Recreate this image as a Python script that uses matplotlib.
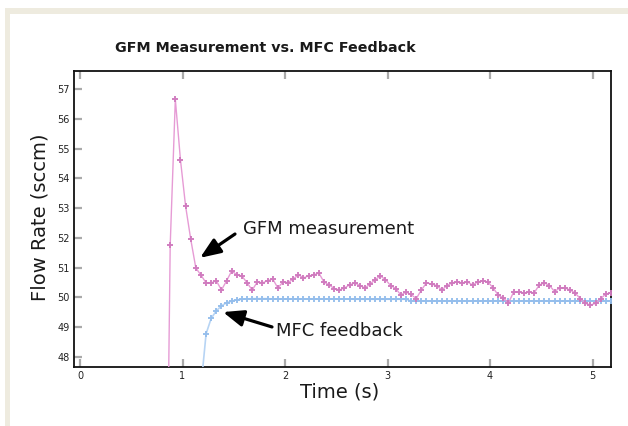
import matplotlib
matplotlib.use("Agg")
import matplotlib.pyplot as plt
from matplotlib.patches import Rectangle
import numpy as np

# ---- data ----
gfm_t = [0.86] + [round(0.88 + 0.05 * i, 2) for i in range(87)]
gfm_v = [46.0,
         51.76, 56.65, 54.62, 53.07, 51.96, 50.99, 50.75, 50.49, 50.49, 50.56,
         50.25, 50.56, 50.89, 50.76, 50.72, 50.49, 50.25, 50.52, 50.49, 50.56,
         50.62, 50.32, 50.52, 50.50, 50.62, 50.76, 50.66, 50.72, 50.76, 50.82,
         50.52, 50.42, 50.30, 50.25, 50.32, 50.42, 50.49, 50.40, 50.32, 50.45,
         50.60, 50.72, 50.60, 50.40, 50.30, 50.08, 50.18, 50.10, 49.96, 50.25,
         50.49, 50.45, 50.40, 50.25, 50.40, 50.49, 50.52, 50.49, 50.52, 50.42,
         50.52, 50.56, 50.52, 50.32, 50.08, 49.98, 49.82, 50.18, 50.18, 50.15,
         50.18, 50.15, 50.42, 50.49, 50.40, 50.20, 50.32, 50.32, 50.25, 50.15,
         49.96, 49.80, 49.75, 49.80, 49.96, 50.12, 50.15]

mfc_t = [1.18] + [round(1.23 + 0.05 * i, 2) for i in range(80)]
mfc_v = [47.0,
         48.78, 49.30, 49.55, 49.72, 49.82, 49.88, 49.92, 49.94, 49.95, 49.96,
         49.96, 49.96, 49.96, 49.95, 49.95, 49.95, 49.95, 49.95, 49.95, 49.95,
         49.95, 49.95, 49.95, 49.95, 49.95, 49.95, 49.95, 49.95, 49.95, 49.94,
         49.94, 49.94, 49.94, 49.94, 49.94, 49.94, 49.94, 49.94, 49.94, 49.94,
         49.88, 49.88, 49.88, 49.88, 49.88, 49.88, 49.88, 49.88, 49.88, 49.88,
         49.88, 49.88, 49.88, 49.88, 49.88, 49.88, 49.88, 49.88, 49.88, 49.88,
         49.88, 49.88, 49.88, 49.88, 49.88, 49.88, 49.88, 49.88, 49.88, 49.88,
         49.88, 49.88, 49.88, 49.88, 49.88, 49.88, 49.88, 49.88, 49.88, 49.88]

x_ticks = [0, 1, 2, 3, 4, 5]
y_ticks = [48, 49, 50, 51, 52, 53, 54, 55, 56, 57]

title = "GFM Measurement vs. MFC Feedback"
xlabel = "Time (s)"
ylabel = "Flow Rate (sccm)"

W, H = 628, 426
fig = plt.figure(figsize=(W / 100, H / 100), dpi=100)
fig.patch.set_facecolor("white")
# beige frame with white panel
fig.patches.append(Rectangle((5 / W, 0), 1, 1 - 8 / H, transform=fig.transFigure,
                             facecolor="#eeebdf", edgecolor="none", zorder=-20))
fig.patches.append(Rectangle((10 / W, 0), 1, 1 - 14 / H, transform=fig.transFigure,
                             facecolor="white", edgecolor="none", zorder=-10))

ax = fig.add_axes([74 / W, 1 - 367 / H, (611 - 74) / W, (367 - 71) / H])
ax.set_zorder(5)
ax.set_facecolor("white")

ax.plot(mfc_t, mfc_v, color="#b3d2f4", lw=1.2, marker="+", ms=5, mew=1.4,
        mec="#93bdec", zorder=3, alpha=0.95)
ax.plot(gfm_t, gfm_v, color="#e596d3", lw=1.0, marker="+", ms=5, mew=1.4,
        mec="#cf78bd", zorder=4, alpha=0.95)

ax.set_xlim(-0.0585, 5.18)
ax.set_ylim(47.665, 57.604)
ax.set_xticks(x_ticks)
ax.set_yticks(y_ticks)
ax.tick_params(axis="both", direction="in", length=6, width=1.6, color="#aaaaaa",
               labelsize=7, labelcolor="#222222", pad=3)
ax.tick_params(axis="x", top=True, bottom=True)
for s in ax.spines.values():
    s.set_color("#111111")
    s.set_linewidth(1.3)

fig.text(265 / W, 1 - 48 / H, title, ha="center", va="center",
         fontsize=10.3, fontweight="bold", color="#1a1a1a")
fig.text(340 / W, 1 - 392 / H, xlabel, ha="center", va="center",
         fontsize=14, color="#1a1a1a")
fig.text(40 / W, 1 - 217 / H, ylabel, ha="center", va="center", rotation=90,
         fontsize=14, color="#1a1a1a")

# annotations
arrow_kw = dict(arrowstyle="-|>,head_length=0.95,head_width=0.38",
                lw=2.3, color="black", shrinkA=0, shrinkB=0, mutation_scale=13)
ax.annotate("", xy=(1.171, 51.33), xytext=(1.512, 52.13),
            arrowprops=arrow_kw, zorder=6)
ax.text(1.59, 52.3, "GFM measurement", ha="left", va="center", fontsize=13,
        color="#1a1a1a", zorder=6)
ax.annotate("", xy=(1.395, 49.51), xytext=(1.873, 49.01),
            arrowprops=arrow_kw, zorder=6)
ax.text(1.912, 48.87, "MFC feedback", ha="left", va="center", fontsize=13,
        color="#1a1a1a", zorder=6)

fig.savefig("out.png", dpi=100, facecolor=fig.get_facecolor())
